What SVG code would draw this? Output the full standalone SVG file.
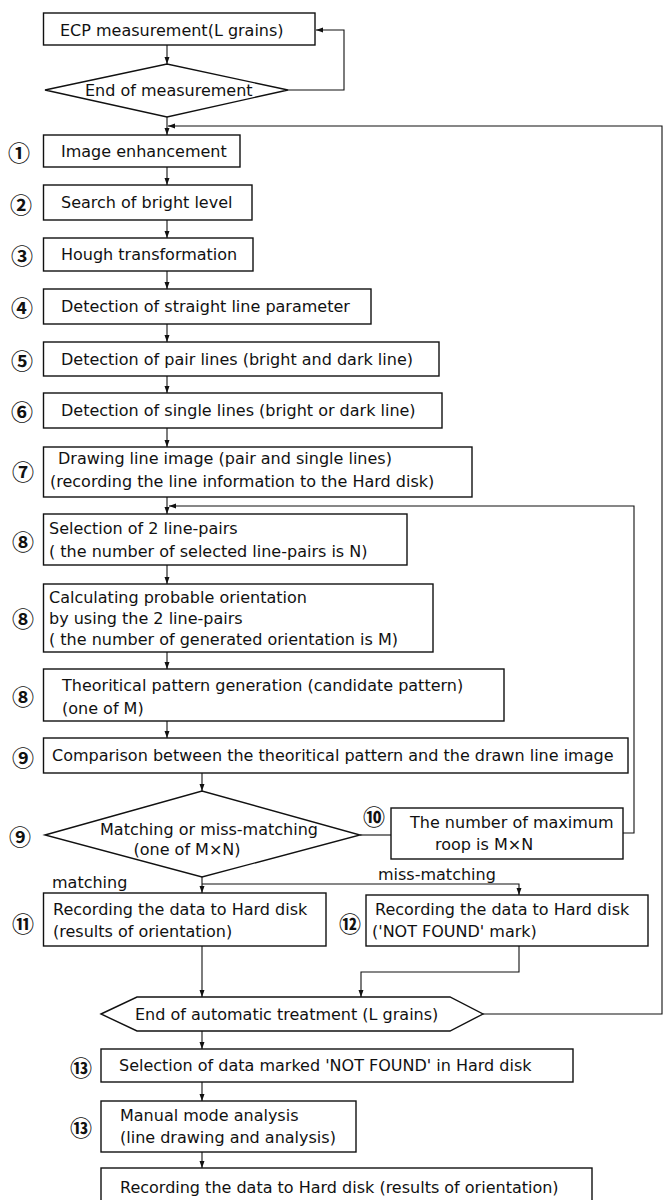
<svg xmlns="http://www.w3.org/2000/svg" width="664" height="1200" viewBox="0 0 664 1200">
<style>
.b{fill:#fff;stroke:#111;stroke-width:1.4}
.t{font-family:"DejaVu Sans",sans-serif;font-size:16px;fill:#111}
.n{font-family:"Noto Sans CJK JP","DejaVu Sans",sans-serif;font-size:22px;font-weight:bold;fill:#111;text-anchor:middle;dominant-baseline:central}
.c{fill:none;stroke:#111;stroke-width:1.1}
.a{marker-end:url(#ah)}
</style>
<defs>
<marker id="ah" markerUnits="userSpaceOnUse" markerWidth="8" markerHeight="6" refX="7" refY="3" orient="auto">
<path d="M0,0.5 L7,3 L0,5.5 z" fill="#111"/>
</marker>
</defs>
<rect width="664" height="1200" fill="#fff"/>
<g id="connectors">
<line class="c a" x1="167" y1="45" x2="167" y2="64"/>
<line class="c a" x1="167" y1="117" x2="167" y2="135"/>
<polyline class="c a" points="288,90 344,90 344,30 316,30"/>
<polyline class="c a" points="483,1014 662,1014 662,126 168,126"/>
<line class="c a" x1="167" y1="167" x2="167" y2="185"/>
<line class="c a" x1="167" y1="220" x2="167" y2="238"/>
<line class="c a" x1="167" y1="271" x2="167" y2="289"/>
<line class="c a" x1="167" y1="324" x2="167" y2="342"/>
<line class="c a" x1="167" y1="376" x2="167" y2="393"/>
<line class="c a" x1="167" y1="428" x2="167" y2="447"/>
<line class="c a" x1="167" y1="497" x2="167" y2="514"/>
<polyline class="c a" points="623,833 634,833 634,506 169,506"/>
<line class="c a" x1="167" y1="565" x2="167" y2="584"/>
<line class="c a" x1="167" y1="652" x2="167" y2="669"/>
<line class="c a" x1="167" y1="721" x2="167" y2="738"/>
<line class="c a" x1="202" y1="773" x2="202" y2="791"/>
<line class="c" x1="360" y1="835" x2="391" y2="835"/>
<line class="c a" x1="202" y1="877" x2="202" y2="893"/>
<polyline class="c a" points="202,884 519,884 519,895"/>
<line class="c a" x1="202" y1="946" x2="202" y2="997"/>
<polyline class="c a" points="519,946 519,972 361,972 361,997"/>
<line class="c a" x1="202" y1="1031" x2="202" y2="1049"/>
<line class="c a" x1="202" y1="1082" x2="202" y2="1101"/>
<line class="c a" x1="202" y1="1152" x2="202" y2="1168"/>
<text class="t" x="52" y="888">matching</text>
<text class="t" x="378" y="880">miss-matching</text>
</g>
<g id="ecp">
<rect class="b" x="43.5" y="13" width="271.5" height="32"/>
<text class="t" x="60" y="36">ECP measurement(L grains)</text>
</g>
<g id="end-measurement">
<polygon class="b" points="45,90 167,64 288,90 167,117"/>
<text class="t" x="85" y="96">End of measurement</text>
</g>
<g id="step1">
<text class="n" x="19" y="151">①</text>
<rect class="b" x="43.5" y="135" width="196.5" height="32"/>
<text class="t" x="61" y="157">Image enhancement</text>
</g>
<g id="step2">
<text class="n" x="21" y="203">②</text>
<rect class="b" x="43.5" y="185" width="208.5" height="35"/>
<text class="t" x="61" y="208">Search of bright level</text>
</g>
<g id="step3">
<text class="n" x="22" y="254">③</text>
<rect class="b" x="43.5" y="238" width="209.5" height="33"/>
<text class="t" x="61" y="260">Hough transformation</text>
</g>
<g id="step4">
<text class="n" x="22" y="306">④</text>
<rect class="b" x="43.5" y="289" width="327.5" height="35"/>
<text class="t" x="61" y="312">Detection of straight line parameter</text>
</g>
<g id="step5">
<text class="n" x="22" y="359">⑤</text>
<rect class="b" x="43.5" y="342" width="395.5" height="34"/>
<text class="t" x="61" y="365">Detection of pair lines (bright and dark line)</text>
</g>
<g id="step6">
<text class="n" x="22" y="410">⑥</text>
<rect class="b" x="43.5" y="393" width="398.5" height="35"/>
<text class="t" x="61" y="416">Detection of single lines (bright or dark line)</text>
</g>
<g id="step7">
<text class="n" x="23" y="470">⑦</text>
<rect class="b" x="43.5" y="447" width="428.5" height="50"/>
<text class="t" x="58" y="464">Drawing line image (pair and single lines)</text>
<text class="t" x="50" y="487">(recording the line information to the Hard disk)</text>
</g>
<g id="step8a">
<text class="n" x="23" y="540">⑧</text>
<rect class="b" x="43.5" y="514" width="363.5" height="51"/>
<text class="t" x="49" y="534">Selection of 2 line-pairs</text>
<text class="t" x="49" y="557">( the number of selected line-pairs is N)</text>
</g>
<g id="step8b">
<text class="n" x="23" y="617">⑧</text>
<rect class="b" x="43.5" y="584" width="389.5" height="68"/>
<text class="t" x="49" y="603">Calculating probable orientation</text>
<text class="t" x="49" y="624">by using the 2 line-pairs</text>
<text class="t" x="49" y="645">( the number of generated orientation is M)</text>
</g>
<g id="step8c">
<text class="n" x="23" y="695">⑧</text>
<rect class="b" x="43.5" y="669" width="460.5" height="52"/>
<text class="t" x="62" y="691">Theoritical pattern generation (candidate pattern)</text>
<text class="t" x="62" y="714">(one of M)</text>
</g>
<g id="step9">
<text class="n" x="23" y="756">⑨</text>
<rect class="b" x="43.5" y="738" width="584.5" height="35"/>
<text class="t" x="52" y="761">Comparison between the theoritical pattern and the drawn line image</text>
</g>
<g id="decision9">
<text class="n" x="20" y="835">⑨</text>
<polygon class="b" points="45,835 202,791 360,835 202,877"/>
<text class="t" x="209" y="835" text-anchor="middle">Matching or miss-matching</text>
<text class="t" x="187" y="855" text-anchor="middle">(one of M×N)</text>
</g>
<g id="step10">
<text class="n" x="374" y="815">⑩</text>
<rect class="b" x="391" y="808" width="232" height="51"/>
<text class="t" x="410" y="828">The number of maximum</text>
<text class="t" x="435" y="850">roop is M×N</text>
</g>
<g id="step11">
<text class="n" x="23" y="922">⑪</text>
<rect class="b" x="43.5" y="893" width="282.5" height="53"/>
<text class="t" x="53" y="915">Recording the data to Hard disk</text>
<text class="t" x="53" y="937">(results of orientation)</text>
</g>
<g id="step12">
<text class="n" x="350" y="922">⑫</text>
<rect class="b" x="366" y="895" width="282" height="51"/>
<text class="t" x="375" y="915">Recording the data to Hard disk</text>
<text class="t" x="372" y="937">('NOT FOUND' mark)</text>
</g>
<g id="end-automatic">
<polygon class="b" points="101,1014 137,997 450,997 483,1014 450,1031 137,1031"/>
<text class="t" x="135" y="1020">End of automatic treatment (L grains)</text>
</g>
<g id="step13a">
<text class="n" x="81" y="1066">⑬</text>
<rect class="b" x="101" y="1049" width="472" height="33"/>
<text class="t" x="119" y="1071">Selection of data marked 'NOT FOUND' in Hard disk</text>
</g>
<g id="step13b">
<text class="n" x="81" y="1126">⑬</text>
<rect class="b" x="101" y="1101" width="255" height="51"/>
<text class="t" x="120" y="1121">Manual mode analysis</text>
<text class="t" x="120" y="1143">(line drawing and analysis)</text>
</g>
<g id="final">
<rect class="b" x="101" y="1168" width="491" height="40"/>
<text class="t" x="120" y="1193">Recording the data to Hard disk (results of orientation)</text>
</g>
</svg>
